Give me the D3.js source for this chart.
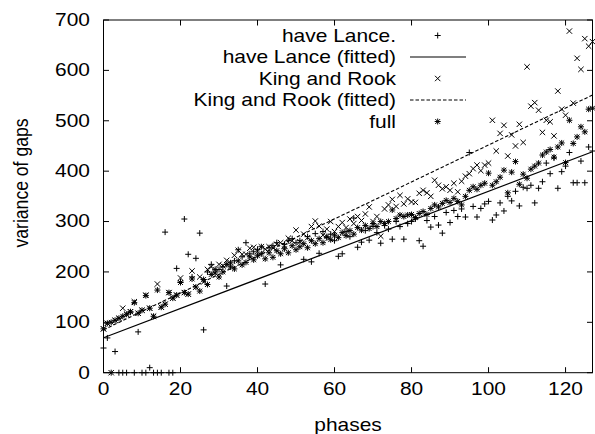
<!DOCTYPE html>
<html><head><meta charset="utf-8">
<script src="https://cdn.jsdelivr.net/npm/d3@7"></script>
<style>
html,body{margin:0;padding:0;background:#fff;}
svg{display:block;}
text{font-family:"Liberation Sans",Arial,Helvetica,sans-serif;fill:#000;}
</style></head>
<body>
<svg id="chart" width="595" height="434"></svg>
<script>
const phases = d3.range(0, 128);
const haveLance = [
49,69,0,42,0,0,0,120,0,81,
0,0,10,0,0,0,279,0,0,207,
180,305,235,190,227,277,85,200,215,198,
205,210,172,218,222,244,230,258,236,240,
245,250,176,248,252,258,214,255,262,266,
258,262,225,270,220,276,237,280,268,275,
262,231,236,280,270,307,249,259,282,263,
290,278,257,292,285,265,300,290,265,296,
300,305,262,251,302,289,310,293,277,318,
298,322,310,325,309,437,330,309,326,335,
340,303,313,337,321,350,341,360,331,368,
366,372,337,366,379,416,395,426,366,399,
410,437,377,377,420,377,448,440];
const kingRook = [
87,98,0,104,108,128,116,121,141,118,
124,154,128,112,176,130,136,159,148,154,
188,159,156,202,170,190,180,205,210,198,
215,212,223,218,233,243,235,235,247,249,
240,250,245,250,248,255,258,252,267,262,
283,260,275,268,290,301,291,273,285,300,
280,290,298,288,305,296,310,302,315,329,
300,310,271,325,333,344,330,352,335,345,
339,338,356,362,357,350,382,372,365,369,
362,376,359,380,390,395,405,412,401,412,
416,501,440,475,491,430,472,450,493,457,
607,529,536,521,477,501,498,470,559,523,
511,678,535,624,602,663,648,657];
const full = [
87,98,100,104,108,112,116,121,139,118,
124,153,128,112,164,130,136,159,148,154,
179,159,156,186,170,162,185,175,195,205,
190,200,215,210,206,222,214,219,230,224,
232,236,226,238,229,242,236,246,238,252,
244,250,256,248,262,256,266,258,270,264,
273,268,278,272,282,275,288,283,292,286,
296,290,300,296,300,323,306,313,310,313,
314,308,316,320,314,326,333,329,336,342,
338,346,340,333,350,362,369,364,372,376,
396,372,379,388,402,357,398,419,374,394,
386,404,410,416,432,438,443,428,448,456,
417,501,455,468,488,478,523,525];
// fitted lines: intercept, slope
const fitIntercepts = [69.4, 85];
const fitSlopes = [2.906, 3.67];
const xTicks = [0,20,40,60,80,100,120];
const yTicks = [0,100,200,300,400,500,600,700];
const legendLabels = ["have Lance.","have Lance (fitted)","King and Rook","King and Rook (fitted)","full"];

const svg = d3.select("#chart");
const L = 103.5, R = 592.5, T = 20, B = 372.7;
const x = d3.scaleLinear().domain([0,127]).range([L,R]);
const y = d3.scaleLinear().domain([0,700]).range([B,T]);
const FS = 18.2, SX = 1.15;

function plusPath(s){return `M${-s},0H${s}M0,${-s}V${s}`;}
function crossPath(s){return `M${-s},${-s}L${s},${s}M${-s},${s}L${s},${-s}`;}
function starPath(s){return plusPath(s)+crossPath(s*0.8);}

// frame
svg.append("rect").attr("x",L).attr("y",T).attr("width",R-L).attr("height",B-T)
  .attr("fill","none").attr("stroke","#000").attr("stroke-width",1);

// ticks (inward, mirrored)
const tl = 5.5;
const g = svg.append("g").attr("stroke","#000").attr("stroke-width",1);
xTicks.forEach(t=>{
  g.append("line").attr("x1",x(t)).attr("x2",x(t)).attr("y1",B).attr("y2",B-tl);
  g.append("line").attr("x1",x(t)).attr("x2",x(t)).attr("y1",T).attr("y2",T+tl);
});
yTicks.forEach(t=>{
  g.append("line").attr("x1",L).attr("x2",L+tl).attr("y1",y(t)).attr("y2",y(t));
  g.append("line").attr("x1",R).attr("x2",R-tl).attr("y1",y(t)).attr("y2",y(t));
});

function stext(tx,ty,str,anchor){
  return svg.append("text").attr("transform",`translate(${tx},${ty}) scale(${SX},1)`)
    .attr("text-anchor",anchor).attr("dy","0.35em").style("font-size",FS+"px").text(str);
}
xTicks.forEach(t=>stext(x(t),389,String(t),"middle"));
yTicks.forEach(t=>stext(90,y(t)-0.5,String(t),"end"));
stext((L+R)/2,425,"phases","middle");
svg.append("text").attr("transform",`translate(21,183) scale(${SX},1) rotate(-90)`)
  .attr("text-anchor","middle").attr("dy","0.35em").style("font-size","17.6px").text("variance of gaps");

// data points
const pts = svg.append("g").attr("fill","none").attr("stroke","#000").attr("stroke-width",1);
function drawSeries(vals, pathStr){
  pts.selectAll(null).data(phases).enter().append("path")
    .attr("transform",p=>`translate(${x(p)},${y(vals[p])})`)
    .attr("d",pathStr);
}
drawSeries(haveLance, plusPath(3));
drawSeries(kingRook, crossPath(2.7));
drawSeries(full, starPath(3));

// fitted lines
const lineGen = (a,b)=>d3.line().x(p=>x(p)).y(p=>y(a+b*p));
svg.append("path").datum([0,127]).attr("d",lineGen(fitIntercepts[0],fitSlopes[0]))
  .attr("fill","none").attr("stroke","#000").attr("stroke-width",1.2);
svg.append("path").datum([0,127]).attr("d",lineGen(fitIntercepts[1],fitSlopes[1]))
  .attr("fill","none").attr("stroke","#000").attr("stroke-width",1.1).attr("stroke-dasharray","3.5,2");

// legend
const rowY = [35.5,57,78.5,100,121.5];
const lg = svg.append("g");
legendLabels.forEach((lab,i)=>{
  stext(396,rowY[i],lab,"end");
});
const sx0 = 410, sx1 = 466, sc = 437.7;
lg.append("path").attr("d",plusPath(3)).attr("transform",`translate(${sc},${rowY[0]})`).attr("stroke","#000").attr("fill","none");
lg.append("line").attr("x1",sx0).attr("x2",sx1).attr("y1",rowY[1]).attr("y2",rowY[1]).attr("stroke","#000").attr("stroke-width",1.2);
lg.append("path").attr("d",crossPath(2.7)).attr("transform",`translate(${sc},${rowY[2]})`).attr("stroke","#000").attr("fill","none");
lg.append("line").attr("x1",sx0).attr("x2",sx1).attr("y1",rowY[3]).attr("y2",rowY[3]).attr("stroke","#000").attr("stroke-width",1.1).attr("stroke-dasharray","3.5,2");
lg.append("path").attr("d",starPath(3)).attr("transform",`translate(${sc},${rowY[4]})`).attr("stroke","#000").attr("fill","none");
</script>
</body></html>
